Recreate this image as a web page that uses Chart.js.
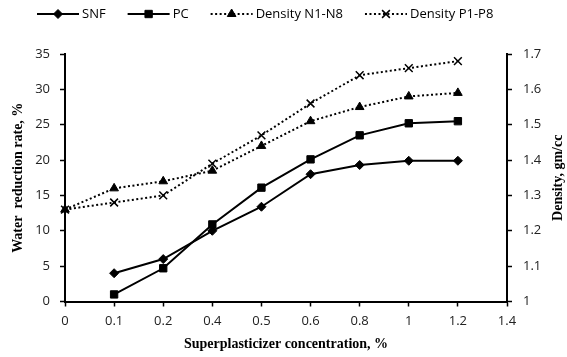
<!DOCTYPE html>
<html>
<head>
<meta charset="utf-8">
<script src="https://cdn.jsdelivr.net/npm/chart.js@4/dist/chart.umd.min.js"></script>
<style>
  html, body { margin: 0; padding: 0; background: #fff; }
</style>
</head>
<body>
<canvas id="chart" width="567" height="357"></canvas>
<script>
// categories (evenly spaced on the x axis)
var concentrations = ['0', '0.1', '0.2', '0.4', '0.5', '0.6', '0.8', '1', '1.2', '1.4'];

// water reduction rate, % (left axis)
var snfRate = [null, 4, 6, 10, 13.4, 18, 19.3, 19.9, 19.9, null];
var pcRate = [null, 1, 4.7, 10.9, 16.1, 20.1, 23.5, 25.2, 25.5, null];

// density, gm/cc (right axis)
var densityN = [1.26, 1.32, 1.34, 1.37, 1.44, 1.51, 1.55, 1.58, 1.59, null];
var densityP = [1.26, 1.28, 1.30, 1.39, 1.47, 1.56, 1.64, 1.66, 1.68, null];

var tickFont = { family: 'Open Sans', size: 13 };
var titleFont = { family: 'Liberation Serif', size: 14, weight: 'bold' };

function series(label, data, style, radius, dashed, axis) {
    return {
        label: label,
        data: data,
        yAxisID: axis,
        borderColor: '#000',
        backgroundColor: '#000',
        borderWidth: 2,
        borderDash: dashed ? [2, 2.5] : [],
        pointStyle: style,
        pointRadius: radius,
        pointBorderWidth: style === 'crossRot' ? 1.5 : 1,
        pointBackgroundColor: '#000',
        pointBorderColor: '#000',
        tension: 0,
        fill: false
    };
}

// legend with line + marker samples, drawn on the canvas
var lineLegend = {
    id: 'lineLegend',
    afterDraw: function (chart) {
        var ctx = chart.ctx;
        var x = 37, y = 14, len = 42;
        ctx.save();
        ctx.font = '13px "Open Sans"';
        ctx.textBaseline = 'middle';
        chart.data.datasets.forEach(function (ds) {
            ctx.strokeStyle = '#000';
            ctx.fillStyle = '#000';
            ctx.lineWidth = 2;
            ctx.setLineDash(ds.borderDash);
            ctx.beginPath();
            ctx.moveTo(x, y);
            ctx.lineTo(x + len, y);
            ctx.stroke();
            ctx.setLineDash([]);
            ctx.lineWidth = ds.pointBorderWidth;
            Chart.helpers.drawPoint(ctx, {
                pointStyle: ds.pointStyle, radius: ds.pointRadius,
                rotation: 0, borderWidth: ds.pointBorderWidth
            }, x + len / 2, y);
            ctx.fillText(ds.label, x + len + 3, y);
            x += len + 3 + ctx.measureText(ds.label).width + 22;
        });

        // right axis title, reading bottom to top
        var area = chart.chartArea;
        ctx.font = 'bold 14px "Liberation Serif"';
        ctx.textAlign = 'center';
        ctx.translate(558, (area.top + area.bottom) / 2);
        ctx.rotate(-Math.PI / 2);
        ctx.fillText('Density, gm/cc', 0, 0);
        ctx.restore();
    }
};

new Chart(document.getElementById('chart'), {
    type: 'line',
    data: {
        labels: concentrations,
        datasets: [
            series('SNF', snfRate, 'rectRot', 4.5, false, 'y'),
            series('PC', pcRate, 'rect', 5.2, false, 'y'),
            series('Density N1-N8', densityN, 'triangle', 5, true, 'y1'),
            series('Density P1-P8', densityP, 'crossRot', 5.5, true, 'y1')
        ]
    },
    options: {
        responsive: false,
        animation: false,
        layout: { padding: { top: 54, left: 0, right: 0, bottom: 0 } },
        plugins: {
            legend: { display: false },
            tooltip: { enabled: false }
        },
        scales: {
            x: {
                offset: false,
                grid: { drawOnChartArea: false, drawTicks: true, tickLength: 5, tickColor: '#000', tickWidth: 1.5 },
                border: { color: '#000', width: 2 },
                ticks: { color: '#222', font: tickFont, padding: 7, maxRotation: 0, autoSkip: false },
                title: { display: true, text: 'Superplasticizer concentration, %', color: '#000', font: titleFont, padding: { top: 1 } },
                afterFit: function (s) { s.height = 55.5; }
            },
            y: {
                position: 'left',
                min: 0,
                max: 35,
                ticks: { stepSize: 5, color: '#222', font: tickFont, padding: 10 },
                grid: { drawOnChartArea: false, drawTicks: true, tickLength: 5, tickColor: '#000', tickWidth: 1.5 },
                border: { color: '#000', width: 2 },
                title: { display: true, text: 'Water  reduction rate, %', color: '#000', font: titleFont, padding: { top: 10 } },
                afterFit: function (s) { s.width = 65; }
            },
            y1: {
                position: 'right',
                min: 1,
                max: 1.7,
                ticks: {
                    stepSize: 0.1, color: '#222', font: tickFont, padding: 11,
                    callback: function (v) { return String(+v.toFixed(1)); }
                },
                grid: { drawOnChartArea: false, drawTicks: true, tickLength: 5, tickColor: '#000', tickWidth: 1.5 },
                border: { color: '#000', width: 2 },
                afterFit: function (s) { s.width = 60; }
            }
        }
    },
    plugins: [lineLegend]
});
</script>
</body>
</html>
